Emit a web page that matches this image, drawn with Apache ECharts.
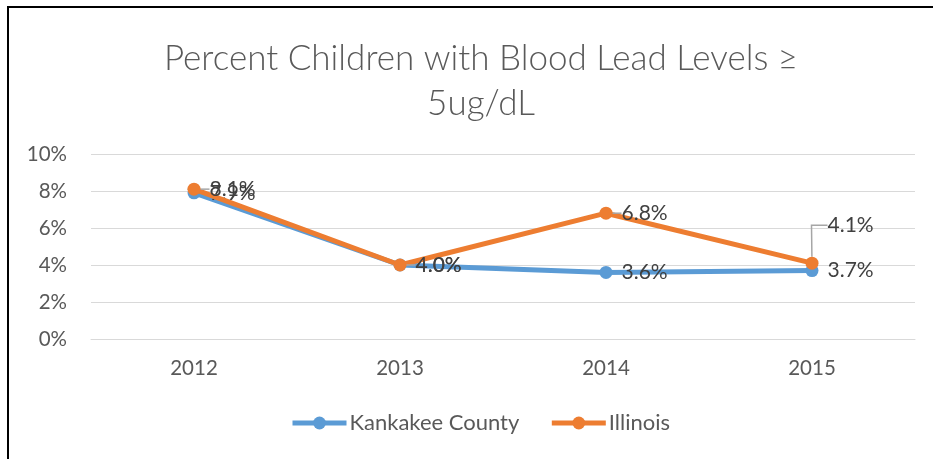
<!DOCTYPE html>
<html>
<head>
<meta charset="utf-8">
<script src="https://cdn.jsdelivr.net/npm/echarts@6/dist/echarts.min.js"></script>
<style>
  html, body { margin: 0; padding: 0; background: #fff; }
  #frame { position: absolute; left: 7px; top: 6px; width: 940px; height: 470px;
           border-top: 2px solid #000; border-left: 2px solid #000; }
  #chart { position: absolute; left: 0; top: 0; width: 933px; height: 459px; }
</style>
</head>
<body>
<div id="frame"></div>
<div id="chart"></div>
<script>
// Share of tested children with blood lead at or above 5 ug/dL
const years = ['2012', '2013', '2014', '2015'];
const kankakee = [7.9, 4.0, 3.6, 3.7];
const illinois = [8.1, 4.0, 6.8, 4.1];
const yTicks = [0, 2, 4, 6, 8, 10];

const FONT = 'Lato, "Open Sans", sans-serif';
const BLUE = '#5b9bd5';
const ORANGE = '#ed7d31';

const chart = echarts.init(document.getElementById('chart'), null, { renderer: 'canvas' });

function pctLabel(p) { return p.value.toFixed(1) + '%'; }

const valueLabel = {
  show: true, position: 'right', distance: 9, formatter: pctLabel,
  fontFamily: FONT, fontSize: 21, color: '#404040'
};

chart.setOption({
  backgroundColor: 'transparent',
  animation: false,
  title: {
    text: 'Percent Children with Blood Lead Levels ≥\n5ug/dL',
    left: 476,
    textAlign: 'center',
    top: 31,
    textStyle: { fontFamily: FONT, fontSize: 35, fontWeight: 300, color: '#595959', lineHeight: 45 }
  },
  legend: {
    bottom: 20,
    left: 285,
    itemWidth: 54,
    itemHeight: 16,
    itemGap: 30,
    lineStyle: { width: 5 },
    textStyle: { fontFamily: FONT, fontSize: 22, color: '#595959', padding: [0, 0, 0, -2] },
    data: ['Kankakee County', 'Illinois']
  },
  grid: { left: 91, right: 18, top: 154, bottom: 120 },
  xAxis: {
    type: 'category',
    data: years,
    boundaryGap: true,
    axisLine: { show: true, lineStyle: { color: '#d9d9d9', width: 1 } },
    axisTick: { show: false },
    axisLabel: { fontFamily: FONT, fontSize: 20.5, color: '#595959', margin: 19 }
  },
  yAxis: {
    type: 'value',
    min: yTicks[0],
    max: yTicks[yTicks.length - 1],
    interval: 2,
    axisLine: { show: false },
    axisTick: { show: false },
    splitLine: { lineStyle: { color: '#d9d9d9', width: 1 } },
    axisLabel: { fontFamily: FONT, fontSize: 20.5, color: '#595959', margin: 24, formatter: '{value}%' }
  },
  series: [
    {
      name: 'Kankakee County',
      type: 'line',
      data: kankakee,
      color: BLUE,
      symbol: 'circle',
      symbolSize: 13,
      lineStyle: { width: 5, color: BLUE },
      itemStyle: { color: BLUE },
      label: valueLabel,
      z: 2
    },
    {
      name: 'Illinois',
      type: 'line',
      data: illinois,
      color: ORANGE,
      symbol: 'circle',
      symbolSize: 13,
      lineStyle: { width: 5, color: ORANGE },
      itemStyle: { color: ORANGE },
      label: valueLabel,
      labelLine: { show: true, length2: 16, smooth: false, lineStyle: { color: '#a6a6a6', width: 1.5 } },
      labelLayout: function (params) {
        // lift the last label clear of the county value below it
        if (params.dataIndex === illinois.length - 1) {
          return { dx: 0, dy: -38 };
        }
        return {};
      },
      z: 3
    }
  ]
});
</script>
</body>
</html>
